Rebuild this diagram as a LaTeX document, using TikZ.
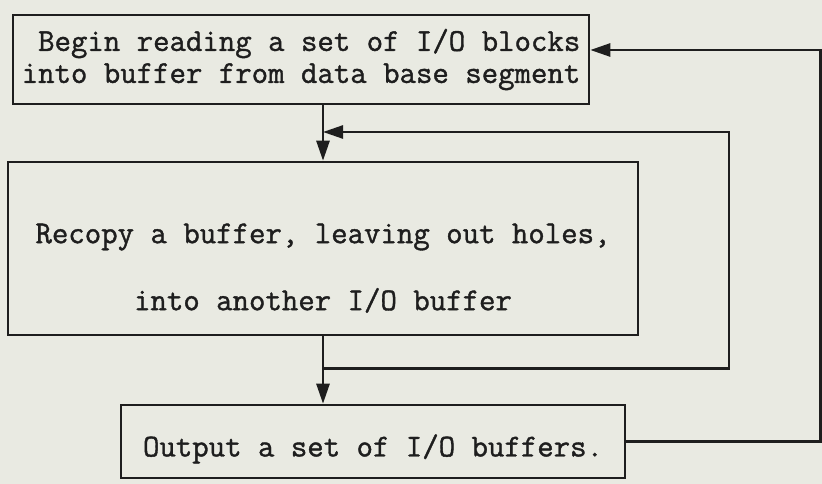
\documentclass[tikz,border=0pt]{standalone}
\usepackage{fontspec}
\newfontfamily\typewriter[FakeBold=1.2]{Latin Modern Mono}
\usepackage{tikz}
\usetikzlibrary{arrows.meta,positioning,calc}
\definecolor{scanpaper}{RGB}{233,234,226}
\definecolor{scanink}  {RGB}{30,30,30}

\begin{document}
\begin{tikzpicture}[
  x=1pt,y=-1pt,
  block/.style={draw=scanink,line width=2.6pt,inner sep=0pt,
                font=\typewriter\fontsize{31.9}{32}\selectfont,text=scanink},
  flow/.style={-{Triangle[length=20pt,width=13pt]},line width=2.6pt,scanink},
]

%% -- page -------------------------------------------------------------------
\fill[scanpaper] (0,0) rectangle (822,484);
\useasboundingbox (0,0) rectangle (822,484);

%% -- three blocks -------------------------------------------------------------
\node[block,minimum width=576pt,minimum height=89pt,align=right] (read)
  at (301,59.5)
  {Begin reading a set of I/O blocks\\into buffer from data base segment};

\node[block,minimum width=630pt,minimum height=173pt,align=center] (recopy)
  at (323,248.5)
  {\rule{0pt}{59pt}Recopy a buffer, leaving out holes,\\[35pt]
   into another I/O buffer};

\node[block,minimum width=504pt,minimum height=73pt] (output)
  at (373,441.5)
  {\rule{0pt}{37pt}Output a set of I/O buffers.};

%% -- straight flow ------------------------------------------------------------
\draw[flow] (read.south -| recopy.north) -- (recopy.north);
\draw[flow] (recopy.south) -- (recopy.south |- output.north);

%% -- inner loop: recopy again -------------------------------------------------
\coordinate (loopback) at (729,132);
\draw[flow] (recopy.south) -- ++(0,32) -| (loopback)
  -- (loopback -| recopy.north);

%% -- outer loop: next set of blocks ---------------------------------------
\draw[flow] (output.east) -- ++(194,0) |- ([yshift=9.5pt]read.east);

\end{tikzpicture}
\end{document}
